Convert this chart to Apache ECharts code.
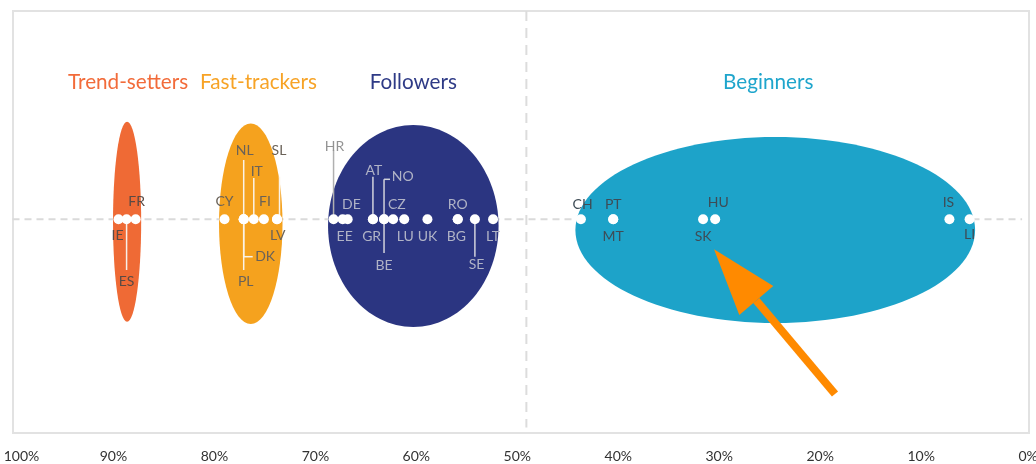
<!DOCTYPE html>
<html>
<head>
<meta charset="utf-8">
<script src="https://cdn.jsdelivr.net/npm/echarts@6/dist/echarts.min.js"></script>
<style>
html,body{margin:0;padding:0;background:#fff;}
#chart{width:1036px;height:464px;}
</style>
</head>
<body>
<div id="chart"></div>
<script>
// ---------------- DATA ----------------
const groupNames = ['Trend-setters', 'Fast-trackers', 'Followers', 'Beginners'];
const countryCodes = ['IE','ES','FR','CY','NL','PL','DK','IT','FI','LV','SL','HR','EE','DE','AT','GR','BE','NO','CZ','LU','UK','RO','BG','SE','LT','CH','PT','MT','SK','HU','IS','LI'];
const countryValues = [89.5,88.7,87.8,79.0,77.1,77.1,77.1,76.1,75.1,73.8,73.8,68.2,67.3,66.8,64.3,64.3,63.2,63.2,62.3,61.2,58.9,55.9,55.9,54.2,52.4,43.7,40.5,40.5,31.6,30.4,7.2,5.2];
const countryGroup = [0,0,0,1,1,1,1,1,1,1,1,2,2,2,2,2,2,2,2,2,2,2,2,2,2,3,3,3,3,3,3,3];
const xTickLabels = ['100%','90%','80%','70%','60%','50%','40%','30%','20%','10%','0%'];
const splitValue = 49.1;

// ---------------- STYLE / LAYOUT ----------------
const groupStyle = [
  {fill:'#EF6A35', title:'#F26B3A', ry:100,  dy:2.4,  tdx:1,   label:'#5a4a44', line:'#f7efe9'},
  {fill:'#F5A21E', title:'#F7A326', ry:100.3,dy:4.4,  tdx:7.7, label:'#6a6258', line:'#fbf3e6'},
  {fill:'#2B3581', title:'#2E3A86', ry:101,  dy:6.7,  tdx:0,   label:'#b0b3c6', line:'#d2d3dc'},
  {fill:'#1DA3C9', title:'#1EA5CC', ry:93,   dy:10.7, tdx:-7,  label:'#3e4c56', line:'#ffffff'}
];
const labelLayout = {
  IE:{dx:-1, ly:15.7}, ES:{dx:0, ly:62.4, line:50.7}, FR:{dx:1, ly:-17.6},
  CY:{dx:0, ly:-17.6}, NL:{dx:1, ly:-68.6, line:-59.3}, PL:{dx:2, ly:62.4, line:50.7},
  DK:{dx:11.5, ly:37.6, line:37.4, stub:9, align:'left'}, IT:{dx:3, ly:-48.3, line:-41.3},
  FI:{dx:1, ly:-17.6}, LV:{dx:0.7, ly:15.7}, SL:{dx:2, ly:-68.6, line:-42.6, lx:2.5},
  HR:{dx:1, ly:-72.6, line:-69, color:'#939393', lineColor:'#b0b0b0'}, EE:{dx:2, ly:17.4}, DE:{dx:3.7, ly:-15},
  AT:{dx:1, ly:-48.6, line:-42.6}, GR:{dx:-1.3, ly:17.4}, BE:{dx:0, ly:45.7, line:33.7},
  NO:{dx:7.7, ly:-42.6, line:-40, stub:6, align:'left'}, CZ:{dx:3.7, ly:-15}, LU:{dx:1, ly:17.4},
  UK:{dx:0, ly:17.4}, RO:{dx:0, ly:-15}, BG:{dx:-1.3, ly:17.4}, SE:{dx:1.7, ly:44.7, line:37.4},
  LT:{dx:0, ly:17.4}, CH:{dx:1.7, ly:-15.3}, PT:{dx:0, ly:-15.3}, MT:{dx:0, ly:16.7},
  SK:{dx:0, ly:16.7}, HU:{dx:3, ly:-16.6}, IS:{dx:-1, ly:-16.6}, LI:{dx:0, ly:15}
};
const FONT = 'Lato, "Open Sans", sans-serif';

// group extents from the country data
const groupData = groupNames.map((n, g) => {
  const vals = countryValues.filter((v, i) => countryGroup[i] === g);
  return [Math.max.apply(null, vals), Math.min.apply(null, vals), g];
});
const countryData = countryValues.map((v, i) => [v, 0, i]);

const chart = echarts.init(document.getElementById('chart'), null, {renderer:'canvas'});

const option = {
  animation: false,
  backgroundColor: '#fff',
  textStyle: {fontFamily: FONT},
  grid: {left: 12.5, right: 13.9, top: 11, bottom: 36.4, containLabel: false, outerBoundsMode: 'none'},
  xAxis: {
    type: 'value', min: 0, max: 100, interval: 10, inverse: true,
    axisLine: {show: false}, axisTick: {show: false}, splitLine: {show: false},
    axisLabel: {
      showMinLabel: true, showMaxLabel: true, hideOverlap: false,
      margin: 22, color: '#333', fontSize: 14, fontFamily: FONT, lineHeight: 14,
      formatter: function (v) {
        const t = xTickLabels[Math.round((100 - v) / 10)];
        if (v === 100) return '{a|' + t + '}';
        if (v === 0) return '{b|' + t + '}';
        return t;
      },
      rich: {
        a: {padding: [0, 0, 0, 18], fontSize: 14, color: '#333', fontFamily: FONT, lineHeight: 14},
        b: {padding: [0, 0, 0, 12], fontSize: 14, color: '#333', fontFamily: FONT, lineHeight: 14}
      }
    }
  },
  yAxis: {type: 'value', min: -1, max: 1, show: false},
  graphic: [
    {type: 'rect', z: 0, silent: true,
     shape: {x: 13, y: 11, width: 1016, height: 422},
     style: {fill: 'none', stroke: '#e2e2e2', lineWidth: 2}},
    {type: 'line', z: 100, silent: true,
     shape: {x1: 756.3, y1: 300.5, x2: 835, y2: 394},
     style: {stroke: '#FF8A00', lineWidth: 8, lineCap: 'butt'}},
    {type: 'polygon', z: 100, silent: true,
     shape: {points: [[714, 249.3], [773.3, 286], [739.3, 315]]},
     style: {fill: '#FF8A00'}}
  ],
  series: [
    {
      // guide lines: dashed baseline and dashed split line
      type: 'custom', z: 1, silent: true,
      data: [[splitValue, 0]],
      encode: {x: 0, y: 1},
      renderItem: function (params, api) {
        const cs = params.coordSys;
        const ps = api.coord([api.value(0), api.value(1)]);
        return {
          type: 'group',
          children: [
            {type: 'line', shape: {x1: cs.x, y1: ps[1], x2: cs.x + cs.width, y2: ps[1]},
             style: {stroke: '#dadada', lineWidth: 2, lineDash: [7, 5]}},
            {type: 'line', shape: {x1: ps[0], y1: cs.y, x2: ps[0], y2: cs.y + cs.height},
             style: {stroke: '#dcdcdc', lineWidth: 2, lineDash: [10, 7]}}
          ]
        };
      }
    },
    {
      type: 'custom', z: 3, silent: true,
      data: groupData,
      encode: {x: [0, 1], y: 2},
      renderItem: function (params, api) {
        const g = api.value(2);
        const st = groupStyle[g];
        const pL = api.coord([api.value(0), 0]);
        const pR = api.coord([api.value(1), 0]);
        const cx = (pL[0] + pR[0]) / 2;
        const rx = Math.abs(pR[0] - pL[0]) / 2 + 5.5;
        return {
          type: 'group',
          children: [
            {type: 'ellipse', shape: {cx: cx, cy: pL[1] + st.dy, rx: rx, ry: st.ry}, style: {fill: st.fill}},
            {type: 'text', style: {
              text: groupNames[g], x: cx + st.tdx, y: pL[1] - 137.3,
              fill: st.title, fontSize: 20.7, fontFamily: FONT,
              align: 'center', verticalAlign: 'middle'}}
          ]
        };
      }
    },
    {
      type: 'custom', z: 4, silent: true,
      data: countryData,
      encode: {x: 0, y: 1},
      renderItem: function (params, api) {
        const i = api.value(2);
        const code = countryCodes[i];
        const st = groupStyle[countryGroup[i]];
        const L = labelLayout[code] || {dx: 0, ly: -16};
        const p = api.coord([api.value(0), 0]);
        const children = [];
        const lineColor = L.lineColor || st.line;
        if (L.line) {
          const lx = p[0] + (L.lx || 0);
          children.push({type: 'line', shape: {x1: lx, y1: p[1], x2: lx, y2: p[1] + L.line},
            style: {stroke: lineColor, lineWidth: 1.5}});
          if (L.stub) {
            children.push({type: 'line', shape: {x1: lx, y1: p[1] + L.line, x2: lx + L.stub, y2: p[1] + L.line},
              style: {stroke: lineColor, lineWidth: 1.5}});
          }
        }
        children.push({type: 'circle', shape: {cx: p[0], cy: p[1], r: 5}, style: {fill: '#fff'}});
        children.push({type: 'text', style: {
          text: code, x: p[0] + L.dx, y: p[1] + L.ly,
          fill: L.color || st.label, fontSize: 14, fontFamily: FONT,
          align: L.align || 'center', verticalAlign: 'middle'}});
        return {type: 'group', children: children};
      }
    }
  ]
};
chart.setOption(option);
</script>
</body>
</html>
